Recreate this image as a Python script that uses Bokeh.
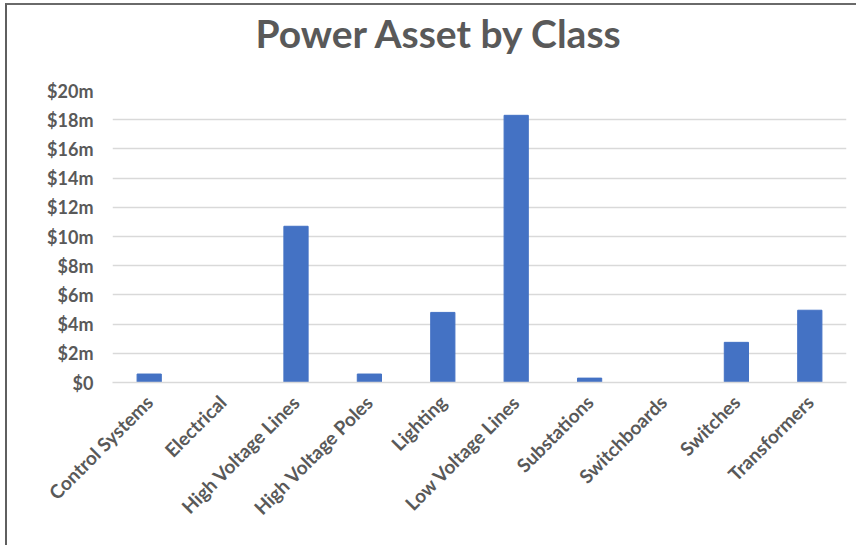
from bokeh.plotting import figure
from bokeh.models import ColumnDataSource, CustomJSTickFormatter, FixedTicker, Range1d, Title
from bokeh.embed import file_html
from bokeh.resources import INLINE
import math

categories = ["Control Systems", "Electrical", "High Voltage Lines", "High Voltage Poles",
              "Lighting", "Low Voltage Lines", "Substations", "Switchboards",
              "Switches", "Transformers"]
values_m = [0.58, 0.0, 10.7, 0.58, 4.8, 18.3, 0.3, 0.0, 2.75, 4.95]
y_ticks = [0, 2, 4, 6, 8, 10, 12, 14, 16, 18, 20]
title_text = "Power Asset by Class"

FONT = "Lato"
TXT = "#595959"

src = ColumnDataSource(dict(cat=categories, val=values_m))

p = figure(x_range=categories, y_range=Range1d(0, 20), width=851, height=542,
           output_backend="svg", toolbar_location=None, title_location=None,
           min_border_left=105, min_border_right=12, min_border_top=85, min_border_bottom=165)
p.styles = {"margin-left": "5px", "margin-top": "3px",
            "border-left": "2px solid #5f5f5f", "border-top": "2px solid #6a6a6a"}

p.vbar(x="cat", top="val", width=0.33, source=src, fill_color="#4472C4",
       line_color="#4472C4")

# spacer (closest to frame) then the main title
p.add_layout(Title(text=" ", text_font_size="10px", standoff=22), "above")
p.add_layout(Title(text=title_text, text_font=FONT, text_font_size="39px",
                   text_font_style="bold", text_color=TXT, align="left",
                   offset=143, standoff=0), "above")

p.outline_line_color = None
p.xgrid.grid_line_color = None
p.ygrid.grid_line_color = "#D9D9D9"
p.ygrid.grid_line_width = 1.5

p.yaxis.ticker = FixedTicker(ticks=y_ticks)
p.yaxis.formatter = CustomJSTickFormatter(code='return tick == 0 ? "$0" : "$" + tick + "m";')
p.yaxis.axis_line_color = None
p.yaxis.major_tick_line_color = None
p.yaxis.minor_tick_line_color = None
p.yaxis.major_label_standoff = 13
p.yaxis.major_label_text_font = FONT
p.yaxis.major_label_text_font_size = "18px"
p.yaxis.major_label_text_font_style = "bold"
p.yaxis.major_label_text_color = TXT

p.xaxis.axis_line_color = "#D9D9D9"
p.xaxis.axis_line_width = 1.5
p.xaxis.major_tick_line_color = None
p.xaxis.minor_tick_line_color = None
p.xaxis.major_label_orientation = math.pi / 4
p.xaxis.major_label_standoff = 10
p.xaxis.major_label_text_font = FONT
p.xaxis.major_label_text_font_size = "19px"
p.xaxis.major_label_text_font_style = "bold"
p.xaxis.major_label_text_color = TXT

p.x_range.range_padding = 0

open("out.html", "w").write(file_html(p, INLINE))
